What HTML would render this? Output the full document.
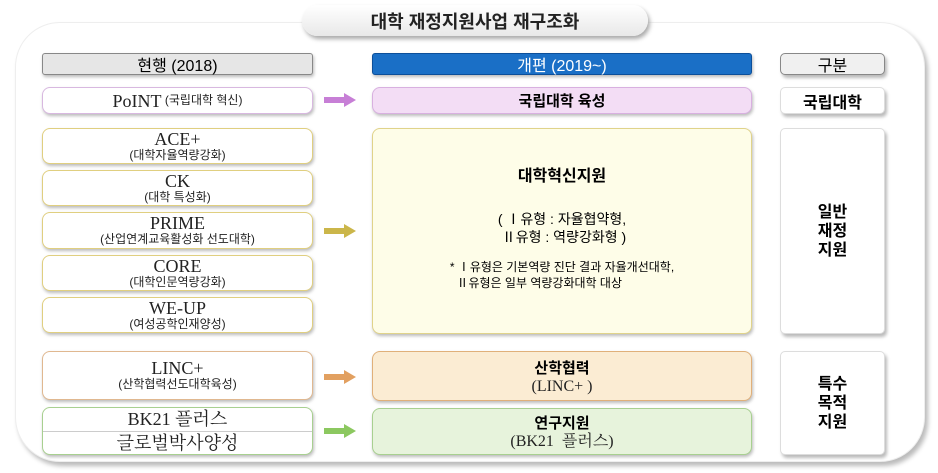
<!DOCTYPE html>
<html><head><meta charset="utf-8"><style>
body{margin:0;width:938px;height:473px;background:#fff;position:relative;overflow:hidden;font-family:"Liberation Sans","Noto Sans CJK KR",sans-serif;}
.a{position:absolute;box-sizing:border-box;display:flex;flex-direction:column;align-items:center;justify-content:center;text-align:center;}
.outer{left:15px;top:22px;width:910px;height:440px;border-radius:45px;background:#fff;box-shadow:3px 4px 5px #bbb;border:1px solid #eee;}
.title{left:302px;top:5px;width:346px;height:31px;border-radius:16px;background:linear-gradient(#fff,#e8e8e8);box-shadow:2px 3px 4px #aaa;font-size:18px;font-weight:bold;color:#222;}
.lb{left:42px;width:271px;border-radius:8px;background:#fff;box-shadow:1px 2px 3px #bbb;}
.mid{left:372px;width:380px;border-radius:8px;box-shadow:1px 2px 3px #bbb;}
.rt{left:780px;width:105px;border-radius:5px;background:#fff;border:1px solid #ddd;box-shadow:2px 3px 3px #bbb;font-weight:bold;font-size:16px;}
.serif{font-family:"Liberation Serif","Noto Serif CJK SC",serif;font-size:18px;line-height:18px;color:#222;}
.sm{font-size:12px;line-height:15px;color:#222;}
.y{border:1px solid #e0cf80;}
.arr{position:absolute;width:32px;height:14px;}
</style></head><body>
<div class="a outer"></div>
<div class="a title">대학 재정지원사업 재구조화</div>

<div class="a lb" style="top:53px;height:22px;background:#e6e6e6;border:1px solid #888;border-radius:3px;font-size:16px;">현행 (2018)</div>
<div class="a mid" style="top:53px;height:22px;background:#1a6fc6;border:1px solid #0c4f9a;border-radius:3px;color:#fff;font-size:16px;">개편 (2019~)</div>
<div class="a rt" style="top:53px;height:22px;background:#f0f0f0;border:1px solid #888;font-weight:normal;font-size:16px;">구분</div>

<div class="a lb" style="top:87px;height:27px;border:1px solid #d8b8e0;flex-direction:row;"><span class="serif">PoINT</span><span class="sm">&nbsp;(국립대학 혁신)</span></div>
<div class="a mid" style="top:87px;height:27px;background:#f3ddf5;border:1px solid #d8b0e0;font-weight:bold;font-size:15px;">국립대학 육성</div>
<div class="a rt" style="top:87px;height:27px;">국립대학</div>

<div class="a lb y" style="top:128px;height:36px;"><span class="serif">ACE+</span><span class="sm">(대학자율역량강화)</span></div>
<div class="a lb y" style="top:170px;height:36px;"><span class="serif">CK</span><span class="sm">(대학 특성화)</span></div>
<div class="a lb y" style="top:212px;height:37px;"><span class="serif">PRIME</span><span class="sm">(산업연계교육활성화 선도대학)</span></div>
<div class="a lb y" style="top:255px;height:36px;"><span class="serif">CORE</span><span class="sm">(대학인문역량강화)</span></div>
<div class="a lb y" style="top:297px;height:36px;"><span class="serif">WE-UP</span><span class="sm">(여성공학인재양성)</span></div>

<div class="a mid" style="top:128px;height:206px;background:#fefde8;border:1px solid #e0d38a;justify-content:flex-start;">
<div style="margin-top:33px;font-weight:bold;font-size:16px;">대학혁신지원</div>
<div style="margin-top:24px;font-size:14px;line-height:18px;">( Ⅰ유형 : 자율협약형,<br>&nbsp;Ⅱ유형 : 역량강화형 )</div>
<div style="margin-top:13px;font-size:12px;line-height:16px;text-align:left;">* Ⅰ유형은 기본역량 진단 결과 자율개선대학,<br>&nbsp;&nbsp;Ⅱ유형은 일부 역량강화대학 대상</div>
</div>
<div class="a rt" style="top:128px;height:206px;line-height:19px;">일반<br>재정<br>지원</div>

<div class="a lb" style="top:351px;height:49px;border:1px solid #e0b890;"><span class="serif">LINC+</span><span class="sm">(산학협력선도대학육성)</span></div>
<div class="a mid" style="top:351px;height:50px;background:#fbecd3;border:1px solid #e0b07a;"><span style="font-weight:bold;font-size:15px;">산학협력</span><span class="serif" style="font-size:16px;">(LINC+ )</span></div>
<div class="a lb" style="top:407px;height:48px;border:1px solid #a8d090;">
<div style="height:23px;width:100%;border-bottom:1px solid #ccc;display:flex;align-items:center;justify-content:center;" class="serif">BK21 플러스</div>
<div style="height:23px;display:flex;align-items:center;" class="serif">글로벌박사양성</div></div>
<div class="a mid" style="top:408px;height:47px;background:#e7f3dc;border:1px solid #a8d090;"><span style="font-weight:bold;font-size:15px;">연구지원</span><span class="serif" style="font-size:16px;">(BK21 &nbsp;플러스)</span></div>
<div class="a rt" style="top:351px;height:104px;line-height:19px;">특수<br>목적<br>지원</div>

<svg class="arr" style="left:324px;top:93px" viewBox="0 0 32 14"><path d="M0 4h20V0l12 7-12 7v-4H0z" fill="#c77fd6"/></svg>
<svg class="arr" style="left:324px;top:224px" viewBox="0 0 32 14"><path d="M0 4h20V0l12 7-12 7v-4H0z" fill="#cbb64a"/></svg>
<svg class="arr" style="left:324px;top:370px" viewBox="0 0 32 14"><path d="M0 4h20V0l12 7-12 7v-4H0z" fill="#e2a060"/></svg>
<svg class="arr" style="left:324px;top:424px" viewBox="0 0 32 14"><path d="M0 4h20V0l12 7-12 7v-4H0z" fill="#8cc860"/></svg>
</body></html>
